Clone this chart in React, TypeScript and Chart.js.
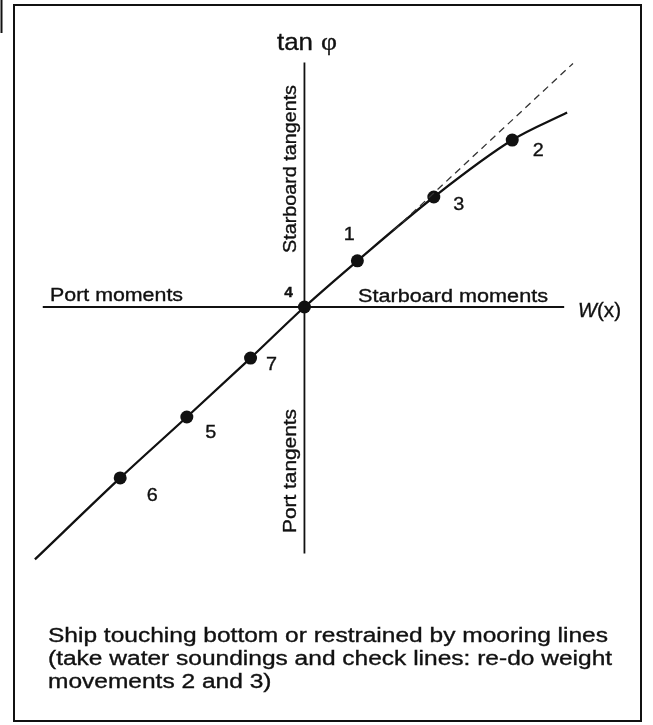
import { useEffect, useRef } from "react";
import { Chart, registerables } from "chart.js";

Chart.register(...registerables);

// Heel test observations (tangent of heel vs heeling moment), units: arbitrary
const markerNames = ["6", "5", "7", "4", "1", "3", "2"];
const markerX = [-18.8, -12.0, -5.5, 0, 5.4, 13.2, 21.2];
const markerY = [-17.4, -11.2, -5.2, 0, 4.7, 11.2, 17.0];

// Fitted curve through the observations
const curveX = [-27.5, -18.8, -12.0, -5.5, 0, 5.4, 13.2, 21.2, 26.8];
const curveY = [-25.7, -17.4, -11.2, -5.2, 0, 4.7, 11.2, 17.0, 19.8];

// Straight-line extension (dashed)
const trendX = [9.1, 27.4];
const trendY = [7.8, 24.8];

// Axes
const momentAxisX = [-26.7, 26.5];
const momentAxisY = [0, 0];
const tangentAxisX = [0, 0];
const tangentAxisY = [24.9, -25.1];

const captionLines = [
  "Ship touching bottom or restrained by mooring lines",
  "(take water soundings and check lines: re-do weight",
  "movements 2 and 3)",
];

const toPts = (xs: number[], ys: number[]) => xs.map((x, i) => ({ x, y: ys[i] }));

const SANS = "'Liberation Sans', Arial, Helvetica, sans-serif";
const SERIF = "'Liberation Serif', 'Times New Roman', serif";
const INK = "#111111";

function drawText(
  ctx: CanvasRenderingContext2D,
  s: string,
  x: number,
  y: number,
  font: string,
  opts: { width?: number; scale?: number; align?: CanvasTextAlign; baseline?: CanvasTextBaseline; rot?: number } = {}
) {
  ctx.save();
  ctx.translate(x, y);
  if (opts.rot) ctx.rotate(opts.rot);
  ctx.font = font;
  ctx.textAlign = opts.align || "left";
  ctx.textBaseline = opts.baseline || "alphabetic";
  const w = ctx.measureText(s).width;
  const k = opts.width ? opts.width / w : opts.scale || 1;
  ctx.scale(k, 1);
  ctx.fillStyle = INK;
  ctx.strokeStyle = INK;
  ctx.lineWidth = 0.35;
  ctx.fillText(s, 0, 0);
  ctx.strokeText(s, 0, 0);
  ctx.restore();
}

const labelOffsets: Record<string, [number, number]> = {
  "1": [-8, -26],
  "2": [26, 11],
  "3": [25, 8],
  "7": [21, 7],
  "5": [24, 16],
  "6": [32, 18],
  "4": [-16, -14],
};

const annotations = {
  id: "annotations",
  afterDraw(chart: any) {
    const ctx: CanvasRenderingContext2D = chart.ctx;
    ctx.save();
    // frame
    ctx.strokeStyle = INK;
    ctx.lineWidth = 2;
    ctx.strokeRect(14, 5, 627, 716);
    ctx.beginPath();
    ctx.moveTo(1.5, 0);
    ctx.lineTo(1.5, 33);
    ctx.stroke();
    ctx.restore();

    // marker labels
    const meta = chart.getDatasetMeta(3);
    markerNames.forEach((name, i) => {
      const el = meta.data[i];
      const off = labelOffsets[name];
      const font = name === "4" ? `bold 14px ${SANS}` : `18px ${SANS}`;
      drawText(ctx, name, el.x + off[0], el.y + off[1], font, {
        align: "center",
        baseline: "middle",
        scale: 1.1,
      });
    });

    // axis titles
    drawText(ctx, "tan", 277, 50, `24px ${SANS}`, { width: 36 });
    drawText(ctx, "φ", 321, 50, `26px ${SERIF}`, { width: 16 });
    drawText(ctx, "W", 578, 317, `italic 20px ${SANS}`, {});
    drawText(ctx, "(x)", 597, 317, `20px ${SANS}`, { width: 24 });

    drawText(ctx, "Port moments", 50, 301, `18px ${SANS}`, { width: 133 });
    drawText(ctx, "Starboard moments", 358, 302, `18px ${SANS}`, { width: 190 });
    drawText(ctx, "Starboard tangents", 291, 169, `18px ${SANS}`, {
      width: 168,
      align: "center",
      baseline: "middle",
      rot: -Math.PI / 2,
    });
    drawText(ctx, "Port tangents", 291, 471, `18px ${SANS}`, {
      width: 124,
      align: "center",
      baseline: "middle",
      rot: -Math.PI / 2,
    });

    // caption
    ctx.save();
    ctx.font = `20px ${SANS}`;
    const k = 560 / ctx.measureText(captionLines[0]).width;
    ctx.restore();
    captionLines.forEach((line, i) => {
      drawText(ctx, line, 48, 642 + i * 23, `20px ${SANS}`, { scale: k });
    });
  },
};

export default function App() {
  const ref = useRef<HTMLCanvasElement | null>(null);

  useEffect(() => {
    if (!ref.current) return;
    const chart = new Chart(ref.current, {
      type: "scatter",
      data: {
        datasets: [
          {
            label: "moments axis",
            data: toPts(momentAxisX, momentAxisY),
            showLine: true,
            borderColor: INK,
            borderWidth: 1.8,
            pointRadius: 0,
          },
          {
            label: "tangents axis",
            data: toPts(tangentAxisX, tangentAxisY),
            showLine: true,
            borderColor: INK,
            borderWidth: 1.8,
            pointRadius: 0,
          },
          {
            label: "extension",
            data: toPts(trendX, trendY),
            showLine: true,
            borderColor: "#333333",
            borderWidth: 1.3,
            borderDash: [7, 5],
            pointRadius: 0,
          },
          {
            label: "observations",
            data: toPts(markerX, markerY),
            showLine: false,
            pointRadius: 6.5,
            pointBackgroundColor: INK,
            pointBorderColor: INK,
            pointBorderWidth: 0,
          },
          {
            label: "curve",
            data: toPts(curveX, curveY),
            showLine: true,
            borderColor: INK,
            borderWidth: 2.3,
            pointRadius: 0,
            cubicInterpolationMode: "monotone",
          },
        ],
      },
      options: {
        responsive: false,
        animation: false,
        devicePixelRatio: 1,
        layout: { padding: 0 },
        scales: {
          x: { type: "linear", min: -30.4, max: 34.9, display: false },
          y: { type: "linear", min: -41.9, max: 30.6, display: false },
        },
        plugins: {
          legend: { display: false },
          tooltip: { enabled: false },
        },
        events: [],
      },
      plugins: [annotations],
    });
    return () => chart.destroy();
  }, []);

  return (
    <div style={{ position: "fixed", left: 0, top: 0, width: 653, height: 725, background: "#fff" }}>
      <canvas ref={ref} width={653} height={725} style={{ display: "block" }} />
    </div>
  );
}
